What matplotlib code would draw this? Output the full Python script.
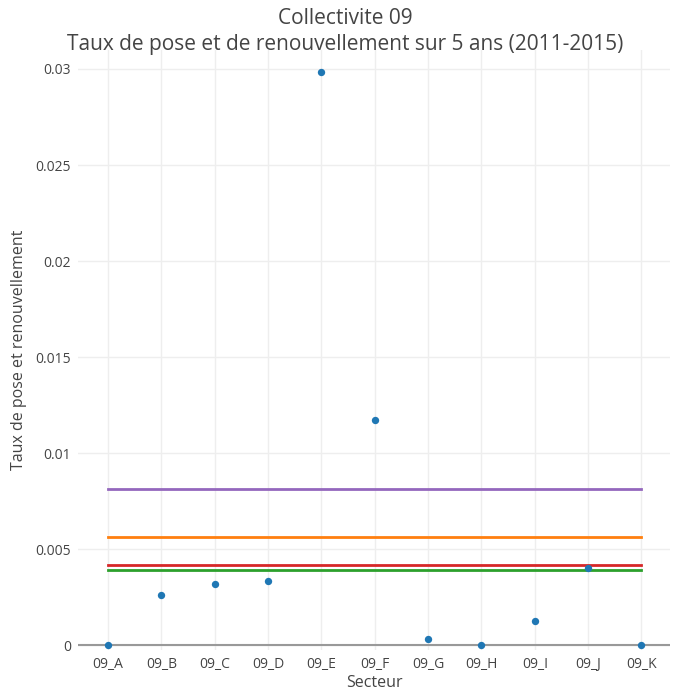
import matplotlib.pyplot as plt

secteurs = ['09_A', '09_B', '09_C', '09_D', '09_E', '09_F', '09_G', '09_H', '09_I', '09_J', '09_K']
taux = [0.0, 0.0026, 0.0032, 0.00337, 0.02984, 0.01172, 0.00035, 0.0, 0.00129, 0.00405, 0.0]

# reference lines (horizontal, across all sectors)
ref_values = [0.00814, 0.00563, 0.0042, 0.00392]
ref_colors = ['#9467bd', '#ff7f0e', '#d62728', '#2ca02c']

plt.rcParams['font.family'] = ['Open Sans', 'DejaVu Sans']

fig = plt.figure(figsize=(6.91, 6.91), dpi=100)
ax = fig.add_axes([0.113, 0.059, 0.857, 0.869])

x = list(range(len(secteurs)))
for val, col in zip(ref_values, ref_colors):
    ax.plot([x[0], x[-1]], [val, val], color=col, lw=2, zorder=3)
ax.scatter(x, taux, s=28, color='#1f77b4', zorder=4, linewidths=0)

ax.axhline(0, color='#999999', lw=1.5, zorder=2)

ax.set_xlim(-0.56, 10.54)
ax.set_ylim(-0.00025, 0.031)
ax.set_xticks(x)
ax.set_xticklabels(secteurs)
ax.set_yticks([0, 0.005, 0.01, 0.015, 0.02, 0.025, 0.03])
ax.set_yticklabels(['0', '0.005', '0.01', '0.015', '0.02', '0.025', '0.03'])
ax.grid(True, color='#eeeeee', lw=1)
ax.set_axisbelow(True)
for s in ax.spines.values():
    s.set_visible(False)
ax.tick_params(length=0, colors='#444444', labelsize=10, pad=5)

ax.set_xlabel('Secteur', fontsize=11.5, color='#444444', labelpad=2)
ax.set_ylabel('Taux de pose et renouvellement', fontsize=11.5, color='#444444', labelpad=6)
fig.suptitle('Collectivite 09\nTaux de pose et de renouvellement sur 5 ans (2011-2015)',
             fontsize=15, color='#444444', y=0.988, linespacing=1.3)

fig.savefig('out.png', dpi=100)
